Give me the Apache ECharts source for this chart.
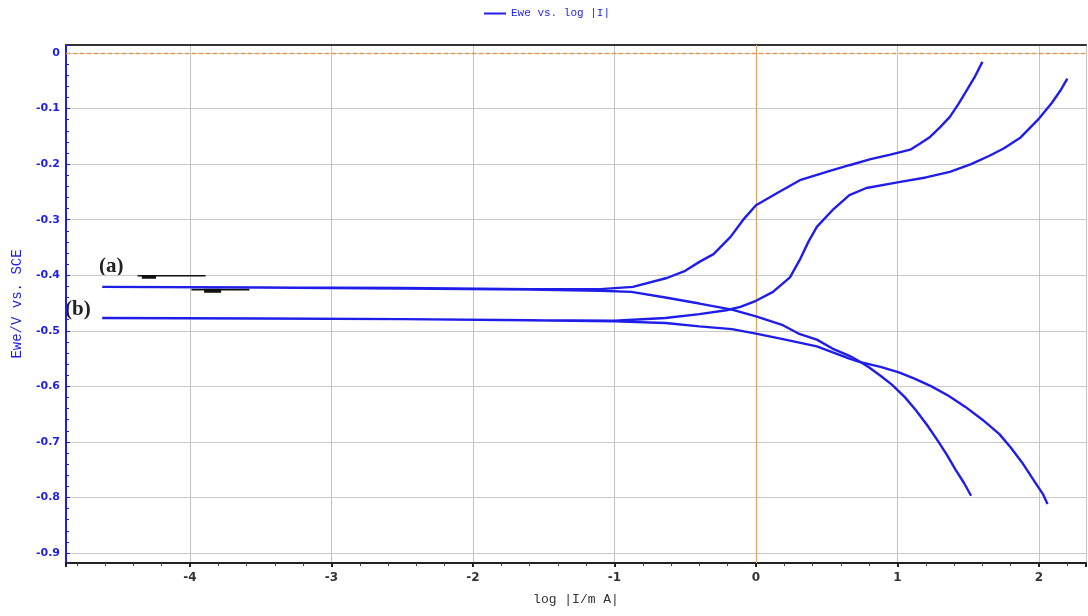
<!DOCTYPE html>
<html>
<head>
<meta charset="utf-8">
<script src="https://cdn.jsdelivr.net/npm/echarts@6/dist/echarts.min.js"></script>
<style>
  html, body { margin: 0; padding: 0; background: #fff; }
  #chart { width: 1088px; height: 616px; }
</style>
</head>
<body>
<div id="chart"></div>
<script>
// log|I/mA| vs Ewe/V (SCE)
const curveA = [
  [1.52, -0.797], [1.47, -0.774], [1.41, -0.750], [1.35, -0.724], [1.29, -0.700],
  [1.21, -0.670], [1.13, -0.643], [1.05, -0.619], [0.96, -0.597], [0.88, -0.581],
  [0.80, -0.566], [0.73, -0.555], [0.66, -0.545], [0.54, -0.532], [0.43, -0.516],
  [0.30, -0.505], [0.19, -0.490], [0.00, -0.474], [-0.17, -0.462], [-0.40, -0.451],
  [-0.64, -0.440], [-0.88, -0.430], [-1.10, -0.428], [-1.60, -0.426], [-2.50, -0.424],
  [-3.50, -0.422], [-4.62, -0.421], [-3.50, -0.422], [-2.50, -0.423], [-1.60, -0.425],
  [-1.10, -0.425], [-0.87, -0.421], [-0.63, -0.405], [-0.50, -0.392], [-0.40, -0.376],
  [-0.30, -0.362], [-0.18, -0.331], [-0.09, -0.300], [0.00, -0.274], [0.15, -0.252],
  [0.31, -0.229], [0.54, -0.211], [0.66, -0.202], [0.81, -0.191], [0.95, -0.183],
  [1.09, -0.174], [1.16, -0.163], [1.23, -0.151], [1.30, -0.134], [1.37, -0.115],
  [1.43, -0.092], [1.49, -0.067], [1.55, -0.041], [1.60, -0.016]
];
const curveB = [
  [2.06, -0.812], [2.03, -0.795], [1.97, -0.772], [1.88, -0.737], [1.80, -0.710],
  [1.72, -0.686], [1.60, -0.660], [1.48, -0.637], [1.36, -0.617], [1.24, -0.600],
  [1.12, -0.586], [1.01, -0.575], [0.88, -0.565], [0.73, -0.556], [0.66, -0.550],
  [0.43, -0.528], [0.19, -0.515], [0.00, -0.505], [-0.17, -0.497], [-0.40, -0.492],
  [-0.64, -0.486], [-1.00, -0.483], [-1.60, -0.481], [-2.50, -0.479], [-3.50, -0.478],
  [-4.62, -0.477], [-3.50, -0.478], [-2.50, -0.479], [-1.60, -0.481], [-1.00, -0.482],
  [-0.64, -0.477], [-0.40, -0.470], [-0.21, -0.463], [-0.11, -0.457], [0.00, -0.446],
  [0.12, -0.430], [0.24, -0.404], [0.31, -0.372], [0.37, -0.340], [0.43, -0.313],
  [0.54, -0.283], [0.66, -0.256], [0.78, -0.243], [1.02, -0.232], [1.20, -0.224],
  [1.37, -0.214], [1.52, -0.200], [1.65, -0.185], [1.75, -0.172], [1.87, -0.152],
  [2.00, -0.118], [2.09, -0.090], [2.15, -0.068], [2.20, -0.046]
];
// hand-drawn black marks next to label (a)
const markA1 = [[-4.37, -0.401], [-3.89, -0.401]];
const markA2 = [[-3.99, -0.426], [-3.58, -0.426]];
const blobA1 = [[-4.34, -0.403], [-4.24, -0.403]];
const blobA2 = [[-3.90, -0.428], [-3.78, -0.428]];

const xRange = [-4.876, 2.332];
const yRange = [-0.918, 0.0144];

const blue = '#1e1ee8';
const chart = echarts.init(document.getElementById('chart'));

function blackMark(data, w) {
  return {
    type: 'line', data: data, symbol: 'none', silent: true,
    lineStyle: { color: '#111', width: w }, z: 4
  };
}

chart.setOption({
  animation: false,
  grid: { left: 66, right: 2, top: 45, bottom: 53, outerBoundsMode: 'none' },
  legend: {
    data: ['Ewe vs. log |I|'],
    left: 479, top: 3,
    icon: 'rect', itemWidth: 22, itemHeight: 2, itemGap: 6,
    textStyle: { color: blue, fontSize: 11, fontFamily: 'Liberation Mono' }
  },
  xAxis: [{
    type: 'value',
    min: xRange[0], max: xRange[1], splitNumber: 7,
    name: 'log |I/m A|', nameLocation: 'middle', nameGap: 30,
    nameTextStyle: { color: '#333', fontSize: 13, fontFamily: 'Liberation Mono' },
    axisLine: { onZero: false, lineStyle: { color: '#222', width: 2 } },
    axisTick: { length: 4, lineStyle: { color: '#222', width: 2 } },
    minorTick: { show: true, splitNumber: 5, length: 3, lineStyle: { color: '#444' } },
    axisLabel: { color: '#333', fontSize: 12, margin: 9, fontFamily: 'DejaVu Sans',
      fontWeight: 'bold', showMinLabel: false, showMaxLabel: false },
    splitLine: { show: true, lineStyle: { color: '#c4c4c4', width: 1 } }
  }, {
    type: 'value', position: 'top',
    min: xRange[0], max: xRange[1],
    axisLine: { show: true, onZero: false, lineStyle: { color: '#333', width: 2 } },
    axisTick: { show: false }, axisLabel: { show: false }, splitLine: { show: false }
  }],
  yAxis: {
    type: 'value',
    min: yRange[0], max: yRange[1], splitNumber: 9,
    name: 'Ewe/V vs. SCE', nameLocation: 'middle', nameGap: 42,
    nameTextStyle: { color: blue, fontSize: 14, fontFamily: 'Liberation Mono' },
    axisLine: { show: true, onZero: false, lineStyle: { color: blue, width: 2 } },
    axisTick: { inside: true, length: 4, lineStyle: { color: blue } },
    minorTick: { show: true, splitNumber: 5, length: 3, lineStyle: { color: blue } },
    axisLabel: { color: blue, fontSize: 11, margin: 6, fontFamily: 'DejaVu Sans',
      fontWeight: 'bold', showMinLabel: false, showMaxLabel: false },
    splitLine: { show: true, lineStyle: { color: '#c8c8c8', width: 1 } }
  },
  graphic: [
    { type: 'text', left: 99, top: 256,
      style: { text: '(a)', font: 'bold 21px "Liberation Serif"', fill: '#222' } },
    { type: 'text', left: 65, top: 299,
      style: { text: '(b)', font: 'bold 21px "Liberation Serif"', fill: '#222' } }
  ],
  series: [
    {
      name: 'Ewe vs. log |I|', type: 'line', data: curveA, symbol: 'none',
      lineStyle: { color: blue, width: 2.4 }, itemStyle: { color: blue }, z: 5,
      markLine: {
        silent: true, symbol: 'none', label: { show: false }, z: 3,
        data: [
          { xAxis: 0, lineStyle: { color: '#e3a064', type: 'solid', width: 1.2 } },
          { yAxis: 0, lineStyle: { color: '#e89a50', type: [4, 3], width: 1.4 } }
        ]
      }
    },
    {
      name: 'Ewe vs. log |I|', type: 'line', data: curveB, symbol: 'none',
      lineStyle: { color: blue, width: 2.4 }, itemStyle: { color: blue }, z: 5
    },
    blackMark(markA1, 1.6),
    blackMark(markA2, 1.6),
    blackMark(blobA1, 3.5),
    blackMark(blobA2, 4)
  ]
});
</script>
</body>
</html>
